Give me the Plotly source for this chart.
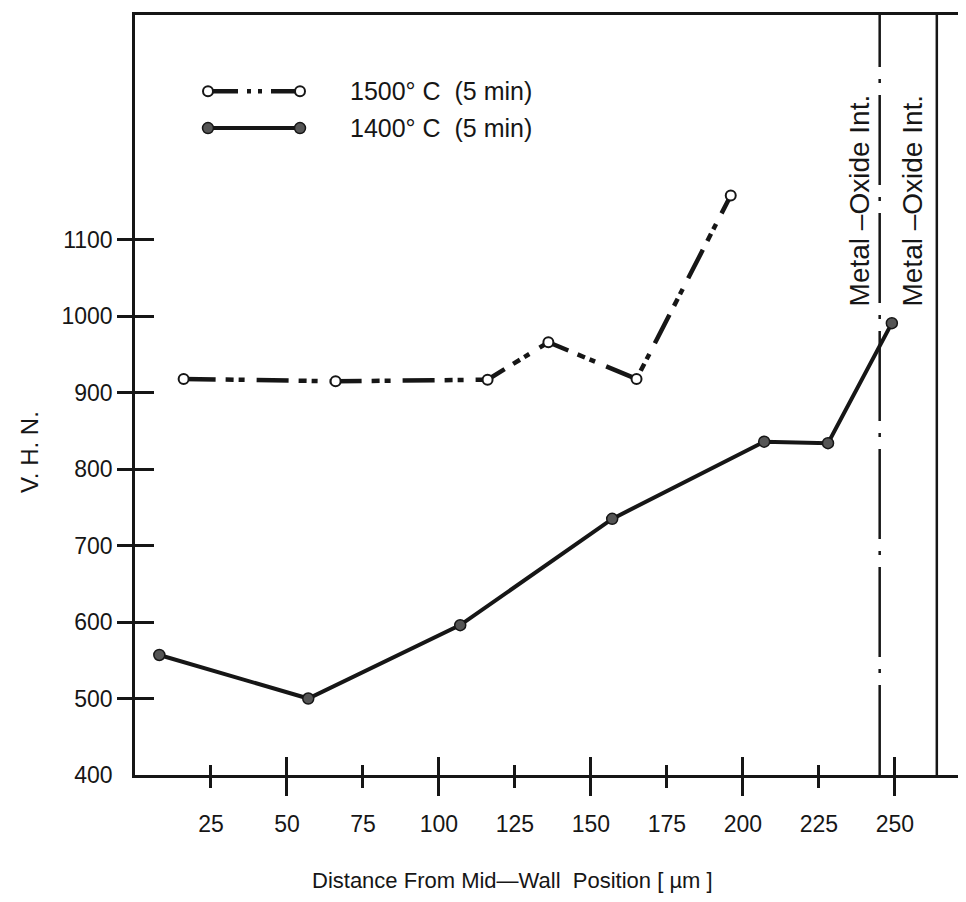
import plotly.graph_objects as go

# ---------------- data ----------------
x_1500 = [16, 66, 116, 136, 165, 196]
vhn_1500 = [918, 915, 917, 966, 918, 1158]

x_1400 = [8, 57, 107, 157, 207, 228, 249]
vhn_1400 = [557, 500, 596, 735, 836, 834, 991]

x_tick_vals = [25, 50, 75, 100, 125, 150, 175, 200, 225, 250]
x_major_vals = [50, 100, 150, 200, 250]
y_tick_vals = [400, 500, 600, 700, 800, 900, 1000, 1100]
y_mark_vals = [500, 600, 700, 800, 900, 1000, 1100]

interface_x = [245, 263.8]
interface_label = "Metal \u2013Oxide Int."

series_names = ["1500\u00b0 C\u00a0\u00a0(5 min)", "1400\u00b0 C\u00a0\u00a0(5 min)"]
legend_sample_x = [0, 1]
legend_rows = [0.75, 0.25]

x_title = "Distance From Mid\u2014Wall\u00a0\u00a0Position [ \u00b5m ]"
y_title = "V. H. N."

X_RANGE = [0, 273.4]
Y_RANGE = [400, 1394]

FONT = "Liberation Sans, Arial, sans-serif"
INK = "#161616"

DASH_1500 = "32px,10px,8px,5px,6px,12px"
DASH_LEG = "30px,9px,4px,7px,4px,9px"

fig = go.Figure()

# 1500 series
fig.add_trace(go.Scatter(
    x=x_1500, y=vhn_1500, mode="lines+markers", showlegend=False,
    line=dict(color=INK, width=4.5, dash=DASH_1500),
    marker=dict(symbol="circle", size=10, color="white", line=dict(color=INK, width=2)),
))
# 1400 series
fig.add_trace(go.Scatter(
    x=x_1400, y=vhn_1400, mode="lines+markers", showlegend=False,
    line=dict(color=INK, width=4),
    marker=dict(symbol="circle", size=11, color="#555555", line=dict(color=INK, width=1.5)),
))

# custom legend samples
fig.add_trace(go.Scatter(
    x=legend_sample_x, y=[legend_rows[0]] * 2, xaxis="x5", yaxis="y5",
    mode="lines+markers", showlegend=False, hoverinfo="skip", cliponaxis=False,
    line=dict(color=INK, width=4.5, dash=DASH_LEG),
    marker=dict(symbol="circle", size=10, color="white", line=dict(color=INK, width=2)),
))
fig.add_trace(go.Scatter(
    x=legend_sample_x, y=[legend_rows[1]] * 2, xaxis="x5", yaxis="y5",
    mode="lines+markers", showlegend=False, hoverinfo="skip", cliponaxis=False,
    line=dict(color=INK, width=4),
    marker=dict(symbol="circle", size=11, color="#555555", line=dict(color=INK, width=1.5)),
))

# empty traces so that the overlaid tick-only axes get drawn
for xa, ya in [("x2", "y"), ("x3", "y"), ("x4", "y"), ("x", "y2"), ("x", "y3")]:
    fig.add_trace(go.Scatter(x=[None], y=[None], xaxis=xa, yaxis=ya, mode="markers",
                             showlegend=False, hoverinfo="skip"))

# interface lines
fig.add_vline(x=interface_x[0], line=dict(color=INK, width=2.5, dash="90px,12px,4px,12px"))
fig.add_vline(x=interface_x[1], line=dict(color=INK, width=2.5))

annotations = []
for xi, shift in zip(interface_x, [-3, -7]):
    annotations.append(dict(
        x=xi, xref="x", y=1293, yref="y", text=interface_label, textangle=-90,
        showarrow=False, xanchor="right", yanchor="top", xshift=shift,
        font=dict(family=FONT, size=28, color=INK),
    ))
# legend text
for name, row in zip(series_names, legend_rows):
    annotations.append(dict(
        x=(348 - 135) / 831, xref="paper", y=row, yref="y5", text=name,
        showarrow=False, xanchor="left", yanchor="middle",
        font=dict(family=FONT, size=25, color=INK),
    ))
# axis titles
annotations.append(dict(
    x=(30 - 135) / 831, xref="paper", y=(775 - 452) / 760, yref="paper",
    text=y_title, textangle=-90, showarrow=False, xanchor="center", yanchor="middle",
    font=dict(family=FONT, size=24, color=INK),
))
annotations.append(dict(
    x=(512 - 135) / 831, xref="paper", y=(775 - 880) / 760, yref="paper",
    text=x_title, showarrow=False, xanchor="center", yanchor="middle",
    font=dict(family=FONT, size=22, color=INK),
))

tick_common = dict(showgrid=False, zeroline=False, tickwidth=2.5, tickcolor=INK)

# the page body adds an 8px offset; figure sized to fit the 966x902 window
fig.update_layout(
    width=958, height=894,
    margin=dict(l=127, r=0, t=7, b=127),
    paper_bgcolor="white", plot_bgcolor="white",
    font=dict(family=FONT, color=INK),
    showlegend=False,
    xaxis=dict(range=X_RANGE, tickmode="array", tickvals=x_tick_vals,
               ticks="outside", ticklen=10, showline=True, linewidth=2.5,
               linecolor=INK, mirror=True, tickfont=dict(size=23),
               ticklabelstandoff=17, **tick_common),
    xaxis2=dict(overlaying="x", anchor="y", range=X_RANGE, tickmode="array",
                tickvals=x_major_vals, ticks="outside", ticklen=20,
                showticklabels=False, showline=False, **tick_common),
    xaxis3=dict(overlaying="x", anchor="y", range=X_RANGE, tickmode="array",
                tickvals=x_tick_vals, ticks="inside", ticklen=10,
                showticklabels=False, showline=False, **tick_common),
    xaxis4=dict(overlaying="x", anchor="y", range=X_RANGE, tickmode="array",
                tickvals=x_major_vals, ticks="inside", ticklen=18,
                showticklabels=False, showline=False, **tick_common),
    xaxis5=dict(domain=[(208 - 135) / 831, (300 - 135) / 831], anchor="y5",
                range=[0, 1], visible=False),
    yaxis=dict(range=Y_RANGE, tickmode="array", tickvals=y_tick_vals,
               ticks="", showline=True, linewidth=2.5, linecolor=INK,
               tickfont=dict(size=23), ticklabelstandoff=15, **tick_common),
    yaxis2=dict(overlaying="y", anchor="x", range=Y_RANGE, tickmode="array",
                tickvals=y_mark_vals, ticks="outside", ticklen=17,
                showticklabels=False, showline=False, **tick_common),
    yaxis3=dict(overlaying="y", anchor="x", range=Y_RANGE, tickmode="array",
                tickvals=y_mark_vals, ticks="inside", ticklen=19,
                showticklabels=False, showline=False, **tick_common),
    yaxis5=dict(domain=[0.827, 0.924], anchor="x5", range=[0, 1], visible=False),
    annotations=annotations,
)

fig.write_html("out.html")
